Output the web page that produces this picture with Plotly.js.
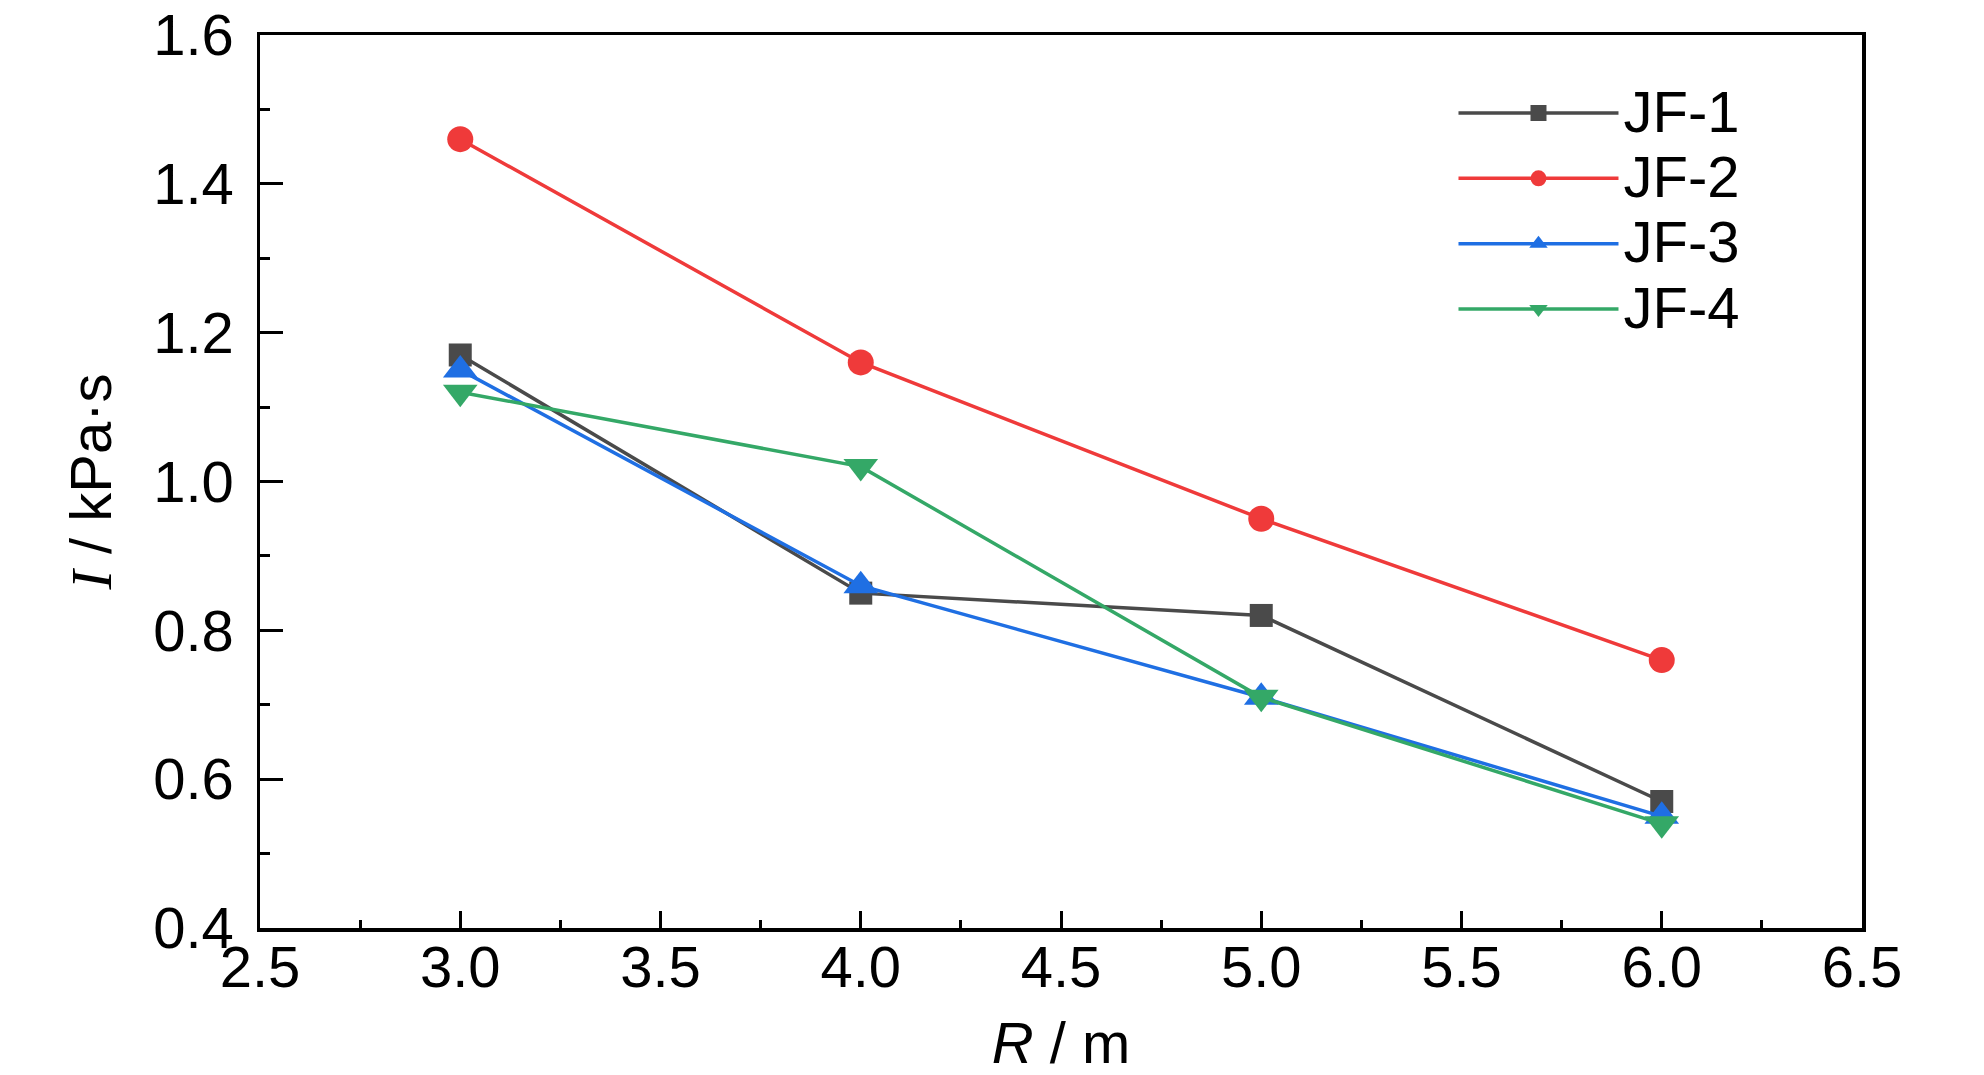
<!DOCTYPE html>
<html>
<head>
<meta charset="utf-8">
<script src="https://cdn.plot.ly/plotly-3.0.1.min.js"></script>
<style>html,body{margin:0;padding:0;background:#fff;}#chart{width:1984px;height:1075px;}</style>
</head>
<body>
<div id="chart"></div>
<script>
const R = [3.0, 4.0, 5.0, 6.0];
const JF1 = [1.17, 0.85, 0.82, 0.57];
const JF2 = [1.46, 1.16, 0.95, 0.76];
const JF3 = [1.15, 0.86, 0.71, 0.55];
const JF4 = [1.12, 1.02, 0.71, 0.54];
const seriesNames = ['JF-1', 'JF-2', 'JF-3', 'JF-4'];
const xTickVals = [2.5, 3.0, 3.5, 4.0, 4.5, 5.0, 5.5, 6.0, 6.5];
const yTickVals = [0.4, 0.6, 0.8, 1.0, 1.2, 1.4, 1.6];

const FONT = '"Liberation Sans", Arial, sans-serif';
const FS = 58;
const colors = ['#4a4a4a', '#ef3a3a', '#1f6fe3', '#34a867'];
const symbols = ['square', 'circle', 'triangle-up', 'triangle-down'];
const sizes = [23, 26, 30, 30];
const data = [JF1, JF2, JF3, JF4];

const traces = data.map((ys, i) => ({
  x: R, y: ys, type: 'scatter', mode: 'lines+markers',
  name: '<span style="font-size:' + FS + 'px">' + seriesNames[i] + '</span>',
  line: {color: colors[i], width: 3.5},
  marker: {color: colors[i], symbol: symbols[i], size: sizes[i]}
}));

const axisCommon = {
  showgrid: false, zeroline: false, showline: true, linecolor: '#000', linewidth: 3.5,
  mirror: true, ticks: 'inside', tickcolor: '#000', tickwidth: 3,
  tickfont: {family: FONT, size: FS, color: '#000'}, tickformat: '.1f',
  ticklabeloverflow: 'allow'
};

const layout = {
  width: 1984, height: 1075,
  margin: {l: 260, r: 122, t: 35, b: 147},
  paper_bgcolor: '#fff', plot_bgcolor: '#fff',
  showlegend: true,
  legend: {
    x: 0.745, y: 0.955, xanchor: 'left', yanchor: 'top',
    bgcolor: 'rgba(0,0,0,0)', borderwidth: 0,
    font: {family: FONT, size: 48, color: '#000'},
    itemwidth: 160, itemsizing: 'trace', tracegroupgap: 0
  },
  xaxis: Object.assign({}, axisCommon, {
    range: [2.5, 6.5], tickmode: 'array', tickvals: xTickVals, ticklen: 17,
    ticklabelstandoff: -14,
    minor: {dtick: 0.25, ticks: 'inside', ticklen: 8, tickwidth: 3, tickcolor: '#000', showgrid: false},
    title: {text: '<i>R</i> / m', font: {family: FONT, size: FS, color: '#000'}, standoff: 40}
  }),
  yaxis: Object.assign({}, axisCommon, {
    range: [0.4, 1.6], tickmode: 'array', tickvals: yTickVals, ticklen: 23,
    ticklabelstandoff: 11,
    minor: {dtick: 0.1, ticks: 'inside', ticklen: 10, tickwidth: 3, tickcolor: '#000', showgrid: false},
    title: {text: '<span style="font-family:\'Liberation Serif\', \'Times New Roman\', serif"><i>I</i></span> / kPa·s', font: {family: FONT, size: FS, color: '#000'}, standoff: 24}
  })
};

Plotly.newPlot('chart', traces, layout, {displayModeBar: false, staticPlot: true});
</script>
</body>
</html>
